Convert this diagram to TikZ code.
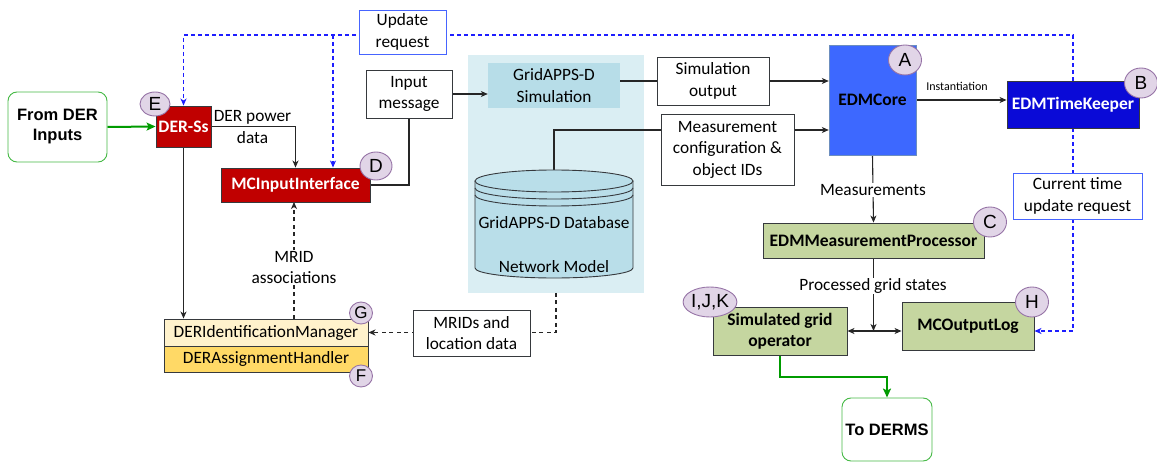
\documentclass[tikz,border=0pt]{standalone}
\usepackage{fontspec}
\setmainfont{Carlito}
\newfontfamily\arialf{Liberation Sans}
\usetikzlibrary{arrows.meta,shapes.geometric,calc}
\definecolor{dred}{HTML}{C00000}
\definecolor{corebl}{RGB}{61,104,255}
\definecolor{corebd}{HTML}{6C8EBF}
\definecolor{tkbl}{RGB}{10,10,215}
\definecolor{gbox}{RGB}{197,214,160}
\definecolor{ybox1}{HTML}{FFF2CC}
\definecolor{ybox2}{HTML}{FFD966}
\definecolor{badgef}{HTML}{E1D5E7}
\definecolor{badged}{HTML}{9673A6}
\definecolor{panelc}{RGB}{218,238,243}
\definecolor{simc}{RGB}{183,221,232}
\definecolor{dbc}{RGB}{185,222,233}
\definecolor{gline}{RGB}{0,155,0}
\definecolor{gbord}{RGB}{70,185,70}
\definecolor{bline}{RGB}{30,30,255}
\definecolor{bbord}{RGB}{70,100,255}
\definecolor{bdk}{HTML}{36393D}
\pgfdeclarelayer{bgpanel}
\pgfdeclarelayer{edges}
\pgfsetlayers{bgpanel,edges,main}
\tikzset{
  lbl/.style={font=\fontsize{17.3}{21.5}\selectfont, align=center},
  lblbox/.style={lbl, draw=bdk, fill=white, line width=0.9pt, inner sep=0pt},
  bbox/.style={lbl, draw=bbord, fill=white, line width=0.9pt, inner sep=0pt},
  redbox/.style={draw=bdk, fill=dred, text=white, font=\fontsize{17.5}{21}\selectfont\bfseries, line width=0.9pt, inner sep=0pt},
  grbox/.style={draw=bdk, fill=gbox, font=\fontsize{17.5}{21.5}\selectfont\bfseries, align=center, line width=0.9pt, inner sep=0pt},
  termbox/.style={draw=gbord, fill=white, rounded corners=9pt, font=\arialf\fontsize{16.5}{20}\selectfont\bfseries, align=center, line width=0.9pt, inner sep=0pt},
  badge/.style={ellipse, draw=badged, fill=badgef, line width=0.9pt, inner sep=0pt, font=\arialf\fontsize{19}{19}\selectfont},
  arr/.style={line width=1.1pt, draw=black!85, -{Stealth[length=7pt,width=6pt,inset=2pt]}},
  ln/.style={line width=1.1pt, draw=black!85},
  darr/.style={line width=1.1pt, draw=black!85, dash pattern=on 4pt off 3.5pt, -{Stealth[length=7pt,width=6pt,inset=2pt]}},
  barr/.style={line width=1.1pt, draw=bline, dash pattern=on 4pt off 3pt, -{Stealth[length=7pt,width=6pt,inset=2pt]}},
  garr/.style={line width=2pt, draw=gline, -{Stealth[length=9pt,width=8pt,inset=2pt]}},
}
\begin{document}
\begin{tikzpicture}[x=1pt,y=-1pt]
\useasboundingbox (0,0) rectangle (1157,462);
% panel
\begin{pgfonlayer}{bgpanel}
\node[fill=panelc, minimum width=176pt, minimum height=238pt, inner sep=0pt] (panel) at (556,174) {};
\end{pgfonlayer}
% nodes
\node[termbox, minimum width=99pt, minimum height=70pt] (fromder) at (57.5,127) {From DER\\Inputs};
\node[redbox, minimum width=55pt, minimum height=41pt] (derss) at (183.5,126.5) {DER-Ss};
\node[badge, minimum width=30pt, minimum height=24pt] (E) at (155,104) {E};
\node[redbox, minimum width=149pt, minimum height=34pt] (mcin) at (295.5,185) {MCInputInterface};
\node[badge, minimum width=32pt, minimum height=28pt] (D) at (376,166) {D};
\node[lblbox, minimum width=86pt, minimum height=48pt] (inmsg) at (409,94) {Input\\message};
\node[bbox, minimum width=87pt, minimum height=44pt] (upd) at (402.5,32) {Update\\request};
\node[fill=simc, lbl, minimum width=132pt, minimum height=45pt, inner sep=0pt] (gsim) at (554,85.5) {GridAPPS-D\\Simulation};
\node[lblbox, minimum width=112pt, minimum height=48pt] (simout) at (713,81) {Simulation\\output};
\node[lblbox, minimum width=133pt, minimum height=71pt] (meascfg) at (727.5,149.5) {Measurement\\configuration \&\\object IDs};
% database cylinder
\fill[dbc] (475,181) -- (475,268) arc[start angle=180,end angle=360,x radius=79pt,y radius=10pt] -- (633,181) arc[start angle=0,end angle=180,x radius=79pt,y radius=11pt] -- cycle;
\draw[bdk, line width=0.9pt] (475,181) -- (475,268) arc[start angle=180,end angle=360,x radius=79pt,y radius=10pt] -- (633,181);
\draw[bdk, line width=0.9pt] (554,181) ellipse[x radius=79pt,y radius=11pt];
\draw[bdk, line width=0.9pt] (475,188) arc[start angle=180,end angle=360,x radius=79pt,y radius=11pt];
\draw[bdk, line width=0.9pt] (475,195) arc[start angle=180,end angle=360,x radius=79pt,y radius=11pt];
\node[lbl] (dbname) at (554,223) {GridAPPS-D Database};
\node[lbl] (dbmodel) at (554,267) {Network Model};
\coordinate (dbtop) at (554,170);
% EDM
\node[draw=corebd, fill=corebl, minimum width=87pt, minimum height=110pt, inner sep=0pt, font=\fontsize{17.5}{21}\selectfont\bfseries] (core) at (872.5,100) {EDMCore};
\node[badge, minimum width=33pt, minimum height=30pt] (A) at (905,60) {A};
\node[draw=bdk, fill=tkbl, text=white, minimum width=132pt, minimum height=47pt, inner sep=0pt, line width=0.9pt, font=\fontsize{17.5}{21}\selectfont\bfseries] (tk) at (1073,104.5) {EDMTimeKeeper};
\node[badge, minimum width=33pt, minimum height=30pt] (B) at (1141,83) {B};
\node[bbox, minimum width=129pt, minimum height=46pt] (curtime) at (1077.5,196) {Current time\\update request};
\node[grbox, minimum width=221pt, minimum height=35pt] (mp) at (873.5,240.5) {EDMMeasurementProcessor};
\node[badge, minimum width=33pt, minimum height=30pt] (C) at (990,222) {C};
\node[grbox, minimum width=134pt, minimum height=48pt] (sgo) at (780,331) {Simulated grid\\operator};
\node[badge, minimum width=51pt, minimum height=30pt] (IJK) at (710,302) {I,J,K};
\node[grbox, minimum width=132pt, minimum height=48pt] (log) at (968,326) {MCOutputLog};
\node[badge, minimum width=33pt, minimum height=30pt] (H) at (1032,302) {H};
\node[termbox, minimum width=90pt, minimum height=63pt] (derms) at (887,429.5) {To DERMS};
% DER manager
\node[draw=bdk, fill=ybox1, lbl, minimum width=204pt, minimum height=27pt, inner sep=0pt, line width=0.9pt] (dim) at (266,332.5) {DERIdentificationManager};
\node[draw=bdk, fill=ybox2, lbl, minimum width=204pt, minimum height=26pt, inner sep=0pt, line width=0.9pt] (dah) at (266,359) {DERAssignmentHandler};
\node[badge, minimum width=23pt, minimum height=22pt, font=\arialf\fontsize{17}{17}\selectfont] (G) at (361,313) {G};
\node[badge, minimum width=23pt, minimum height=22pt, font=\arialf\fontsize{17}{17}\selectfont] (F) at (361,376) {F};
\node[lblbox, minimum width=117pt, minimum height=46pt] (mridloc) at (471.5,333) {MRIDs and\\location data};
% free labels
\node[lbl] (dpd) at (252.5,127) {DER power\\data};
\node[lbl, fill=white, inner sep=1pt] (mra) at (294,267.5) {MRID\\associations};
\node[lbl, fill=white, inner sep=1pt] (meas) at (873,190) {Measurements};
\node[lbl, fill=white, inner sep=1pt] (pgs) at (873,286) {Processed grid states};
\node[font=\fontsize{12}{14}\selectfont] (inst) at (957,86) {Instantiation};
% coordinates
\coordinate (jct) at (873.5,331);
\coordinate (g1) at (780,377);
\coordinate (ytop) at (1073,35);
\coordinate (bj) at (333,35);
\coordinate (ct) at (1073,331);
\coordinate (pbot) at (556,293);
\coordinate (mcup) at (294,202);
% connectors
\begin{pgfonlayer}{edges}
\draw[garr] (fromder.east) -- (derss.west);
\draw[arr] (derss.east) -| (mcin.north);
\draw[ln] (mcin.east) -| (inmsg.south);
\draw[arr] (inmsg.east) -- (inmsg.east -| gsim.west);
\draw[arr] (gsim.east |- simout.west) -- (simout.west -| core.west);
\draw[arr] (dbtop) |- (meascfg.west |- 0,130) -- (core.west |- 0,130);
\draw[arr] (core.east) -- (core.east -| tk.west);
\draw[arr] (core.south) -- (mp.north);
\draw[arr] (mp.south) -- (jct);
\draw[line width=1.1pt, draw=black!85, {Stealth[length=7pt,width=6pt,inset=2pt]}-{Stealth[length=7pt,width=6pt,inset=2pt]}] (sgo.east) -- (sgo.east -| log.west);
\draw[garr] (sgo.south) -- (g1) -| (derms.north);
\draw[arr] (derss.south) -- (derss.south |- dim.north);
\draw[darr] (mcup |- dim.north) -- (mcup);
\draw[darr] (pbot) |- (dim.east);
\draw[barr] (tk.north) -- (ytop) -| (derss.north);
\draw[barr] (bj) -- (bj |- mcin.north);
\draw[barr] (tk.south) -- (ct) -- (ct -| log.east);
\end{pgfonlayer}
\end{tikzpicture}
\end{document}
